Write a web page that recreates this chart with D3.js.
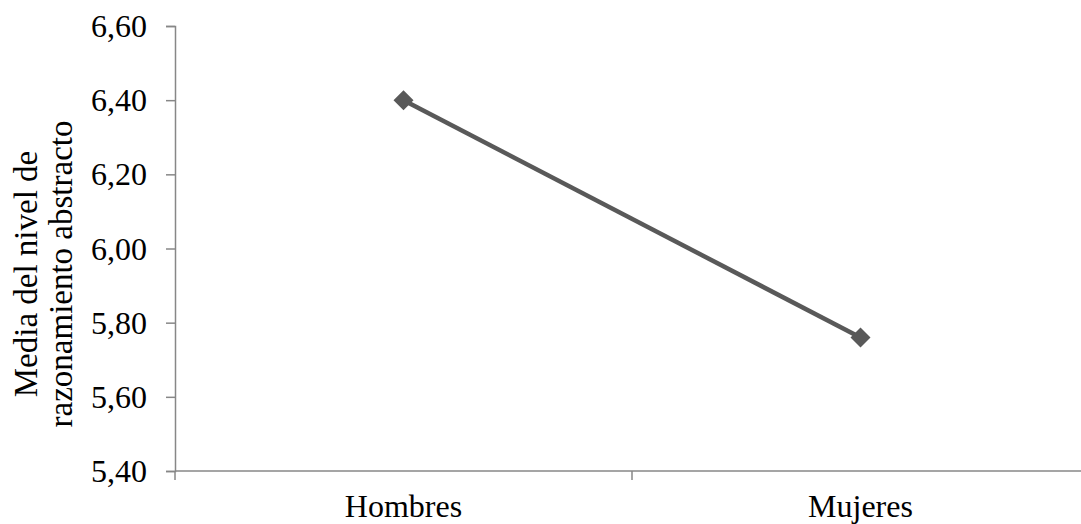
<!DOCTYPE html>
<html>
<head>
<meta charset="utf-8">
<script src="https://cdn.jsdelivr.net/npm/d3@7"></script>
<style>
  html, body { margin: 0; padding: 0; background: #fff; }
  svg { display: block; }
  text { font-family: "Liberation Serif", "Times New Roman", serif; fill: #000; }
</style>
</head>
<body>
<svg id="chart" width="1081" height="524"></svg>
<script>
const categories = ["Hombres", "Mujeres"];
const values = [6.40, 5.76];
const yTicks = [5.40, 5.60, 5.80, 6.00, 6.20, 6.40, 6.60];
const yTitleLines = ["Media del nivel de", "razonamiento abstracto"];

const svg = d3.select("#chart");
const axisColor = "#878787";
const lineColor = "#595959";
const fontSize = 32;

const y = d3.scaleLinear().domain([5.40, 6.60]).range([471, 26]);
const x = d3.scaleBand().domain(categories).range([175, 1089]).padding(0);

const fmt = v => d3.format(".2f")(v).replace(".", ",");

// Y axis
const yAxis = svg.append("g")
  .attr("transform", "translate(175,0)")
  .call(d3.axisLeft(y).tickValues(yTicks).tickFormat(fmt).tickSize(9).tickPadding(19));
yAxis.select(".domain").attr("stroke", axisColor).attr("stroke-width", 1.5);
yAxis.selectAll(".tick line").attr("stroke", axisColor).attr("stroke-width", 1.5);
yAxis.selectAll(".tick text")
  .attr("font-size", fontSize)
  .attr("font-family", "Liberation Serif, Times New Roman, serif")
  .attr("fill", "#000")
  .attr("dy", "0.33em");

// X axis line
svg.append("line")
  .attr("x1", 175).attr("x2", 1089)
  .attr("y1", y(5.40)).attr("y2", y(5.40))
  .attr("stroke", axisColor).attr("stroke-width", 1.5);

// X ticks at category boundaries
const boundaries = categories.map(c => x(c)).concat([x(categories[categories.length - 1]) + x.bandwidth()]);
svg.append("g").selectAll("line").data(boundaries).join("line")
  .attr("x1", d => d).attr("x2", d => d)
  .attr("y1", y(5.40)).attr("y2", y(5.40) + 9)
  .attr("stroke", axisColor).attr("stroke-width", 1.5);

// X labels
svg.append("g").selectAll("text").data(categories).join("text")
  .attr("x", d => x(d) + x.bandwidth() / 2)
  .attr("y", 517)
  .attr("text-anchor", "middle")
  .attr("font-size", fontSize)
  .text(d => d);

// Y title
const title = svg.append("text")
  .attr("transform", "translate(0,274) rotate(-90)")
  .attr("text-anchor", "middle")
  .attr("font-size", 33);
yTitleLines.forEach((t, i) => {
  title.append("tspan").attr("x", 0).attr("y", 37 + i * 35).text(t);
});

// Line
const pts = categories.map((c, i) => [x(c) + x.bandwidth() / 2, y(values[i])]);
svg.append("path")
  .attr("d", d3.line()(pts))
  .attr("fill", "none")
  .attr("stroke", lineColor)
  .attr("stroke-width", 4.5);

// Diamond markers
svg.append("g").selectAll("path").data(pts).join("path")
  .attr("transform", d => `translate(${d[0]},${d[1]})`)
  .attr("d", "M0,-10L10,0L0,10L-10,0Z")
  .attr("fill", lineColor);
</script>
</body>
</html>
